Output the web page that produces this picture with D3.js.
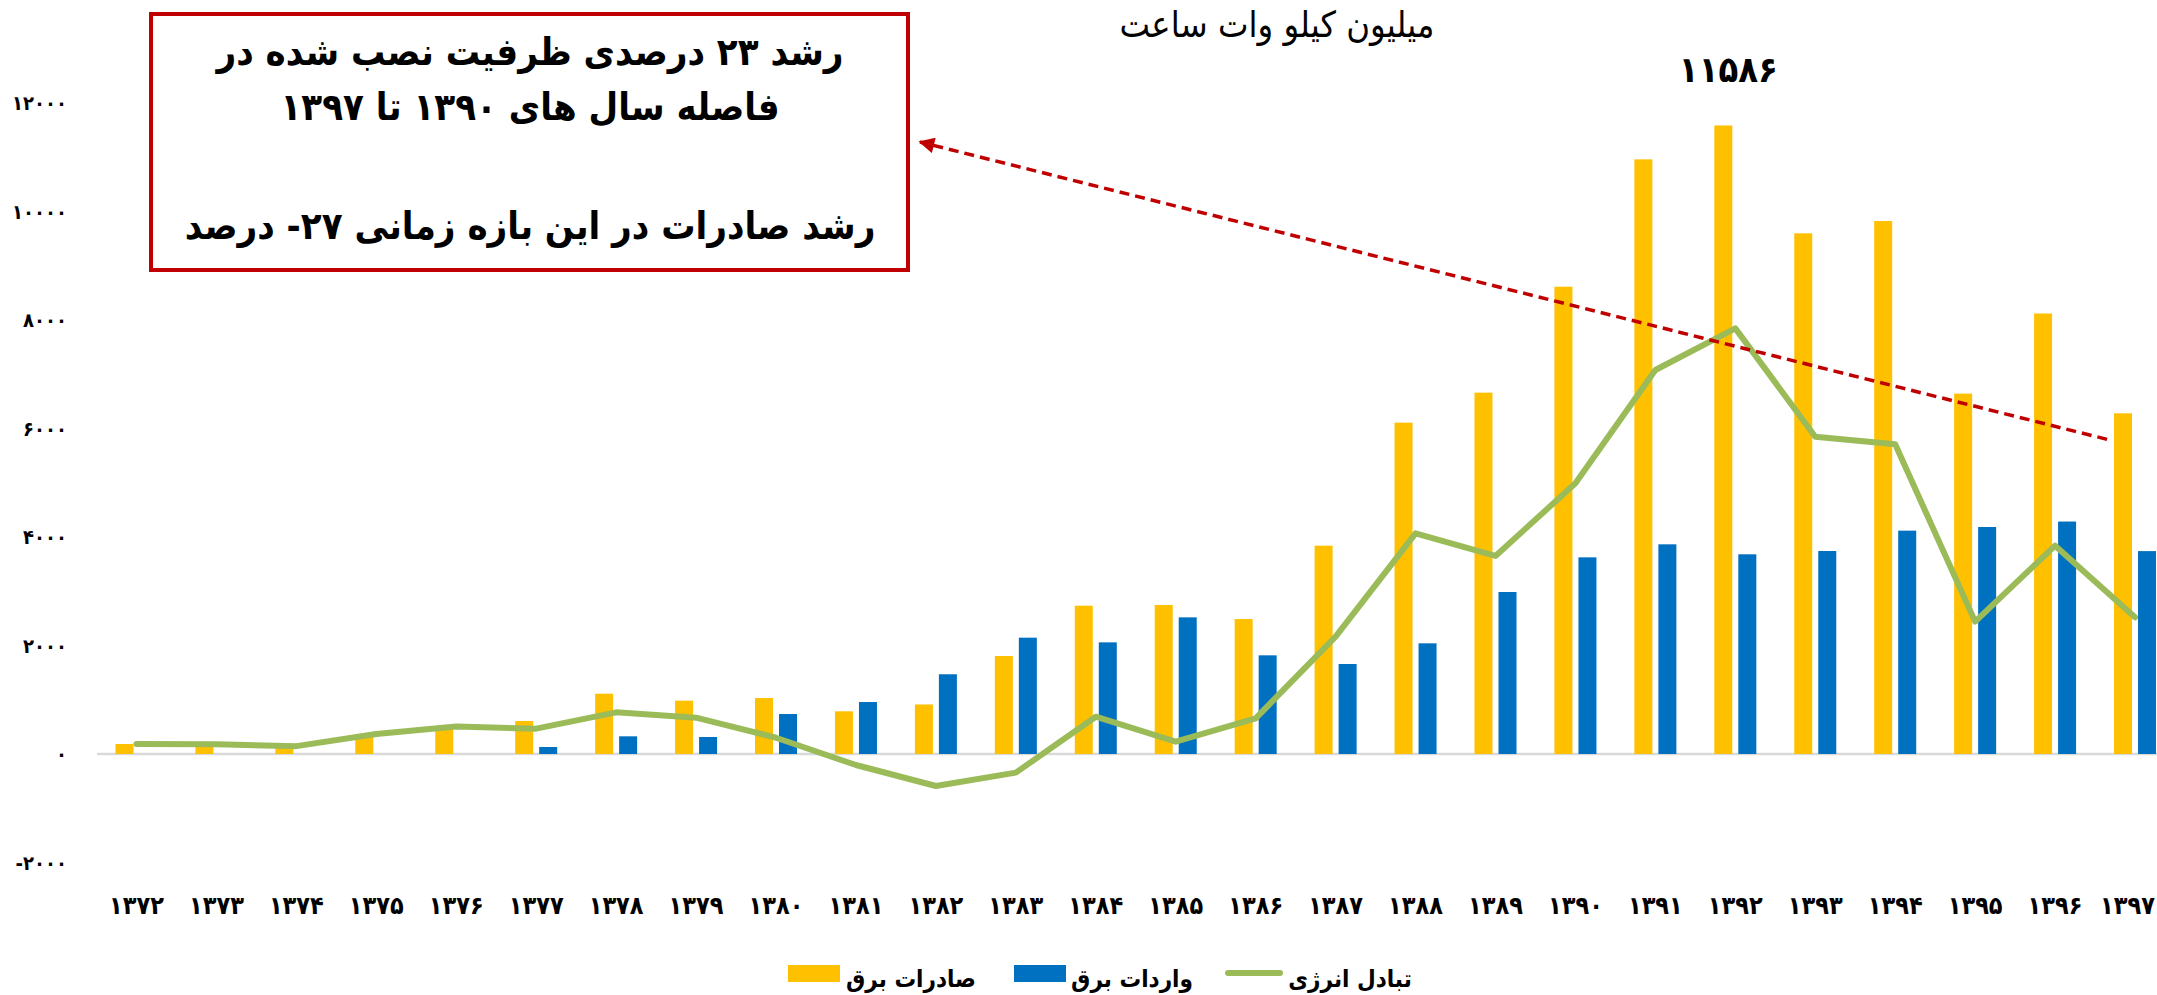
<!DOCTYPE html>
<html lang="fa">
<head>
  <meta charset="UTF-8">
  <title>صادرات و واردات برق</title>
  <style>
    html, body { margin: 0; padding: 0; background: #fff; overflow: hidden; }
    svg { display: block; font-family: "DejaVu Sans Condensed", "DejaVu Sans", sans-serif; }
  </style>
</head>
<body>
  <svg id="chart" width="2157" height="995"></svg>

  <script src="https://d3js.org/d3.v7.min.js"></script>
  <script>
    // data (million kWh)
    const years = ['1372', '1373', '1374', '1375', '1376', '1377', '1378', '1379', '1380',
      '1381', '1382', '1383', '1384', '1385', '1386', '1387', '1388', '1389', '1390',
      '1391', '1392', '1393', '1394', '1395', '1396', '1397']
    const exportsVals = [184, 165, 135, 370, 480, 608, 1112, 983, 1032, 787, 913, 1806, 2734,
      2747, 2488, 3840, 6108, 6661, 8614, 10961, 11586, 9598, 9825, 6643, 8120, 6280]
    const importsVals = [0, 0, 0, 0, 0, 129, 326, 313, 737, 958, 1470, 2144, 2058,
      2519, 1819, 1659, 2040, 2986, 3625, 3865, 3681, 3742, 4117, 4184, 4285, 3740]
    const exchangeVals = [184, 180, 145, 370, 505, 467, 768, 670, 300, -203, -590, -344, 688,
      227, 658, 2163, 4068, 3650, 4990, 7078, 7846, 5849, 5708, 2440, 3840, 2520]
    const yTicks = [-2000, 0, 2000, 4000, 6000, 8000, 10000, 12000]

    const seriesNames = ['صادرات برق', 'واردات برق', 'تبادل انرژی']
    const titleText = 'میلیون کیلو وات ساعت'
    const peakLabel = { year: '1392', value: 11586 }
    const noteLines = ['رشد ۲۳ درصدی ظرفیت نصب شده در', 'فاصله سال های ۱۳۹۰ تا ۱۳۹۷', 'رشد صادرات در این بازه زمانی ۲۷- درصد']
    const trendFrom = { year: '1397', value: 5800 }

    const colors = { exp: '#ffc000', imp: '#0070c0', line: '#9bbb59', red: '#c00000' }

    // persian digits
    const fa = (s) => String(s).replace(/[0-9]/g, (d) => String.fromCharCode(0x06F0 + +d))

    const W = 2157
    const svg = d3.select('#chart')

    const x = d3.scaleBand()
      .domain(years)
      .range([96.5, 2175])

    const sub = d3.scaleBand()
      .domain(['exp', 'imp'])
      .range([0, x.bandwidth()])
      .paddingInner(0.25)
      .paddingOuter(0.79)

    const y = d3.scaleLinear()
      .domain([-2000, 12000])
      .range([862.5, 103])

    // y labels
    svg.append('g')
      .selectAll('text')
      .data(yTicks)
      .enter()
      .append('text')
      .attr('x', 67)
      .attr('y', d => y(d))
      .attr('dy', '0.35em')
      .attr('text-anchor', 'end')
      .style('font-size', '20px')
      .style('font-weight', 'bold')
      .text(d => (d < 0 ? '-' : '') + fa(Math.abs(d)))

    // zero line
    svg.append('line')
      .attr('x1', 97)
      .attr('x2', W)
      .attr('y1', y(0))
      .attr('y2', y(0))
      .attr('stroke', '#d9d9d9')
      .attr('stroke-width', 2.5)

    // bars
    const rows = years.map((yr, i) => ({ year: yr, exp: exportsVals[i], imp: importsVals[i] }))
    const groups = svg.append('g')
      .selectAll('g')
      .data(rows)
      .enter()
      .append('g')
      .attr('transform', d => `translate(${x(d.year)},0)`)

    groups.selectAll('rect')
      .data(d => ['exp', 'imp'].map(k => ({ key: k, value: d[k] })))
      .enter()
      .append('rect')
      .attr('x', d => sub(d.key))
      .attr('width', sub.bandwidth())
      .attr('y', d => y(Math.max(0, d.value)))
      .attr('height', d => Math.abs(y(d.value) - y(0)))
      .attr('fill', d => colors[d.key])

    // exchange line
    const line = d3.line()
      .x((d, i) => x(years[i]) + x.bandwidth() / 2)
      .y(d => y(d))

    svg.append('path')
      .datum(exchangeVals)
      .attr('d', line)
      .attr('fill', 'none')
      .attr('stroke', colors.line)
      .attr('stroke-width', 6)
      .attr('stroke-linejoin', 'round')
      .attr('stroke-linecap', 'round')

    // x labels (last one kept inside the page)
    const xLabels = svg.append('g')
      .selectAll('text')
      .data(years)
      .enter()
      .append('text')
      .attr('x', d => x(d) + x.bandwidth() / 2)
      .attr('y', 914)
      .attr('text-anchor', 'middle')
      .style('font-size', '25px')
      .style('font-weight', 'bold')
      .text(d => fa(d))

    xLabels.each(function () {
      const b = this.getBBox()
      if (b.x + b.width > W - 2) {
        d3.select(this).attr('text-anchor', 'end').attr('x', W - 2)
      }
    })

    // peak data label
    svg.append('text')
      .attr('x', x(peakLabel.year) + sub('exp') + sub.bandwidth() / 2 + 5)
      .attr('y', 82)
      .attr('text-anchor', 'middle')
      .style('font-size', '36px')
      .style('font-weight', 'bold')
      .text(fa(peakLabel.value))

    // title
    svg.append('text')
      .attr('x', 1277)
      .attr('y', 37)
      .attr('text-anchor', 'middle')
      .style('font-size', '36px')
      .text(titleText)

    // note box
    svg.append('rect')
      .attr('x', 151)
      .attr('y', 14)
      .attr('width', 757)
      .attr('height', 256)
      .attr('fill', '#fff')
      .attr('stroke', colors.red)
      .attr('stroke-width', 4)

    svg.append('g')
      .selectAll('text')
      .data(noteLines)
      .enter()
      .append('text')
      .attr('x', 530)
      .attr('y', (d, i) => [65, 120, 239][i])
      .attr('text-anchor', 'middle')
      .style('font-size', '38px')
      .style('font-weight', 'bold')
      .text(d => d)

    // dashed trend arrow
    svg.append('defs')
      .append('marker')
      .attr('id', 'head')
      .attr('viewBox', '0 0 10 10')
      .attr('refX', 9)
      .attr('refY', 5)
      .attr('markerWidth', 5)
      .attr('markerHeight', 4.5)
      .attr('orient', 'auto')
      .append('path')
      .attr('d', 'M0,0 L10,5 L0,10 z')
      .attr('fill', colors.red)

    svg.append('line')
      .attr('x1', x(trendFrom.year) + 12)
      .attr('y1', y(trendFrom.value))
      .attr('x2', 920)
      .attr('y2', 142)
      .attr('stroke', colors.red)
      .attr('stroke-width', 3.5)
      .attr('stroke-dasharray', '10,6')
      .attr('marker-end', 'url(#head)')

    // legend
    const legend = svg.append('g')
    legend.append('rect').attr('x', 788).attr('y', 965).attr('width', 52).attr('height', 17).attr('fill', colors.exp)
    legend.append('rect').attr('x', 1014).attr('y', 965).attr('width', 52).attr('height', 17).attr('fill', colors.imp)
    legend.append('line').attr('x1', 1228).attr('x2', 1280).attr('y1', 973).attr('y2', 973)
      .attr('stroke', colors.line).attr('stroke-width', 6).attr('stroke-linecap', 'round')

    legend.selectAll('text')
      .data(seriesNames)
      .enter()
      .append('text')
      .attr('x', (d, i) => [911, 1132, 1350][i])
      .attr('y', 987)
      .attr('text-anchor', 'middle')
      .style('font-size', '24px')
      .style('font-weight', 'bold')
      .text(d => d)
  </script>
</body>
</html>
